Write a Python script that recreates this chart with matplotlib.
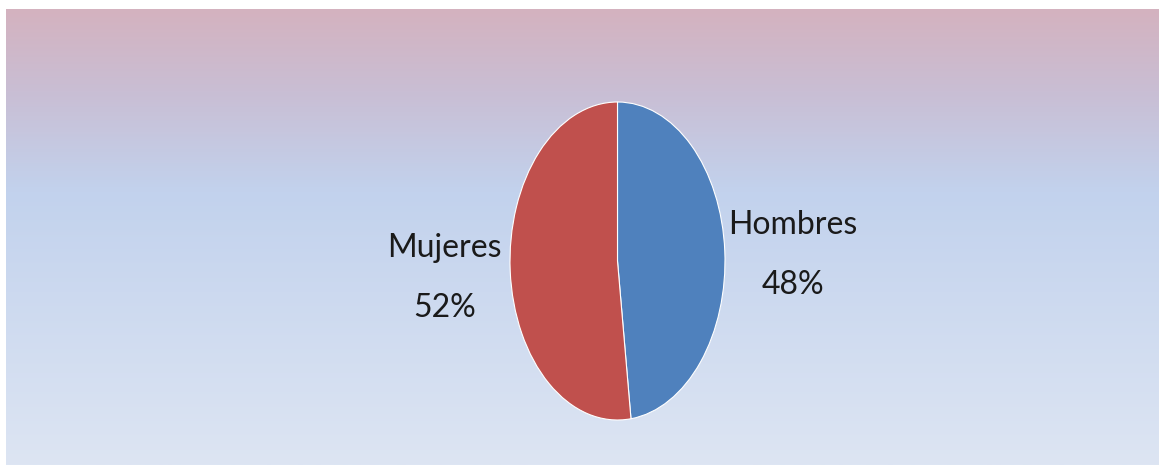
import numpy as np
import matplotlib
matplotlib.use("Agg")
import matplotlib.pyplot as plt
from matplotlib.colors import LinearSegmentedColormap

# data
categories = ["Hombres", "Mujeres"]
shares = [48, 52]
colors = ["#4F81BD", "#C0504D"]

W, H = 1159, 466
fig = plt.figure(figsize=(W / 100, H / 100), dpi=100)
fig.patch.set_facecolor("white")

# gradient background panel
bg = fig.add_axes([6 / W, 1 / H, (W - 6) / W, (465 - 9) / H])
bg_cmap = LinearSegmentedColormap.from_list(
    "bg",
    [(0.0, (212 / 255, 178 / 255, 191 / 255)),
     (0.18, (201 / 255, 190 / 255, 212 / 255)),
     (0.40, (194 / 255, 210 / 255, 237 / 255)),
     (1.0, (221 / 255, 229 / 255, 243 / 255))])
grad = np.linspace(0, 1, 256).reshape(-1, 1)
bg.imshow(grad, aspect="auto", cmap=bg_cmap, extent=[0, 1, 1, 0])
bg.set_axis_off()

# squashed pie
ax = fig.add_axes([510 / W, (H - 420) / H, 215 / W, 318 / H])
labels = [f"{c}\n{s}%" for c, s in zip(categories, shares)]
wedges, texts = ax.pie(shares, labels=labels, colors=colors, startangle=90,
                       counterclock=False, labeldistance=1.62,
                       wedgeprops=dict(edgecolor="white", linewidth=0.8),
                       textprops=dict(fontsize=23, color="#1a1a1a",
                                      family=["Lato", "DejaVu Sans"]))
# label block positions (axes data units)
label_pos = [(1.63, 0.04), (-1.61, -0.11)]
for t, p in zip(texts, label_pos):
    t.set_position(p)
    t.set_ha("center")
    t.set_va("center")
    t.set_linespacing(2.25)
ax.set_aspect("auto")
ax.set_xlim(-1, 1)
ax.set_ylim(-1, 1)

fig.savefig("out.png", dpi=100)
